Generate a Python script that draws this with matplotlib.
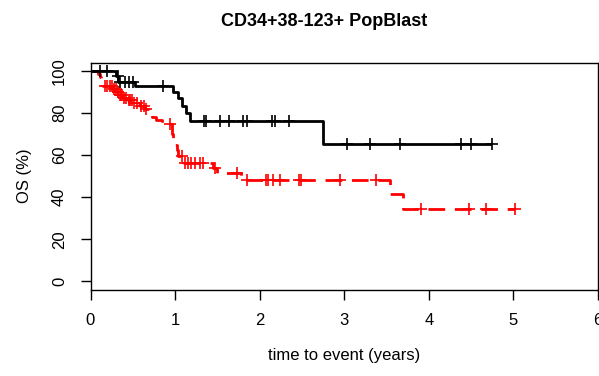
import numpy as np
import matplotlib.pyplot as plt

plt.rcParams['font.family'] = ['Liberation Sans', 'DejaVu Sans']

# step times (years) and survival (%) after each step
black_times = [0.0, 0.30, 0.33, 0.53, 0.98, 1.03, 1.08, 1.13, 1.18, 2.75]
black_surv = [100, 97.5, 95.0, 92.7, 90.0, 87.0, 83.5, 80.0, 76.0, 65.5]
black_end = 4.75
black_censor = [0.11, 0.20, 0.32, 0.35, 0.41, 0.46, 0.50, 0.86, 1.34, 1.36,
                1.53, 1.64, 1.80, 1.85, 2.14, 2.18, 2.35, 3.03, 3.31, 3.66,
                4.38, 4.50, 4.75]

red_times = [0.0, 0.09, 0.11, 0.12, 0.14, 0.15, 0.27, 0.31, 0.34, 0.38,
             0.44, 0.50, 0.58, 0.65, 0.69, 0.73, 0.78, 0.84, 0.96, 0.97,
             0.99, 1.02, 1.04, 1.10, 1.45, 1.49, 1.78, 3.54, 3.70]
red_surv = [100, 98.6, 97.2, 95.8, 94.4, 93.0, 91.5, 90.0, 88.5, 87.3,
            86.0, 84.8, 83.5, 82.0, 80.2, 78.3, 76.5, 74.6, 70.0, 67.4,
            64.8, 62.2, 59.6, 56.2, 53.8, 51.4, 48.2, 41.4, 34.5]
red_end = 5.02
red_censor = [0.17, 0.20, 0.23, 0.26, 0.28, 0.30, 0.32, 0.33, 0.35, 0.36,
              0.37, 0.40, 0.42, 0.45, 0.47, 0.49, 0.52, 0.55, 0.60, 0.63,
              0.66, 0.94, 1.08, 1.12, 1.15, 1.19, 1.24, 1.29, 1.33, 1.47,
              1.73, 1.85, 2.07, 2.10, 2.16, 2.24, 2.46, 2.49, 2.95, 3.37,
              3.91, 4.47, 4.68, 5.02]

x_ticks = [0, 1, 2, 3, 4, 5, 6]
y_ticks = [0, 20, 40, 60, 80, 100]


def draw_km(ax, times, surv, end, censor, color, ls):
    t = np.array(times + [end])
    s = np.array(surv + [surv[-1]])
    ax.step(t, s, where='post', color=color, lw=2, linestyle=ls,
            solid_capstyle='butt', dash_capstyle='butt')
    idx = np.searchsorted(np.array(times), censor, side='right') - 1
    ax.plot(censor, np.array(surv)[idx], linestyle='none', marker='+',
            color=color, markersize=9, mew=1.2)


W, H = 599, 376
fig = plt.figure(figsize=(W / 100, H / 100), dpi=100)
ax = fig.add_axes([90.5 / W, 1 - 289.7 / H, (598 - 90.5) / W, (289.7 - 62.6) / H])

draw_km(ax, red_times, red_surv, red_end, red_censor, '#ff0000', (0, (6, 3.5)))
draw_km(ax, black_times, black_surv, black_end, black_censor, 'black', '-')

ax.set_xlim(0, 6)
ax.set_ylim(-4, 104)
ax.set_xticks(x_ticks)
ax.set_yticks(y_ticks)
ax.set_yticklabels([str(v) for v in y_ticks], rotation=90, va='center')
ax.tick_params(axis='both', length=7, width=1, labelsize=12, pad=10)
for sp in ax.spines.values():
    sp.set_linewidth(1)

ax.set_xlabel('time to event (years)', fontsize=12, labelpad=14)
ax.set_ylabel('OS (%)', fontsize=12, labelpad=14)
fig.text(324 / W, 1 - 21 / H, 'CD34+38-123+ PopBlast', ha='center', va='center',
         fontsize=13, fontweight='bold')

fig.savefig('out.png', dpi=100)
